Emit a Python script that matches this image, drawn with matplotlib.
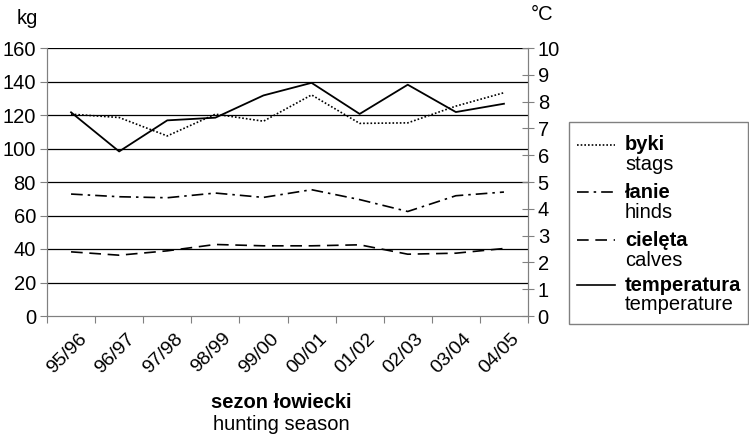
import matplotlib
matplotlib.use("Agg")
import matplotlib.pyplot as plt
from matplotlib.lines import Line2D
from matplotlib.patches import Rectangle
from matplotlib.transforms import ScaledTranslation

seasons = ["95/96", "96/97", "97/98", "98/99", "99/00", "00/01", "01/02", "02/03", "03/04", "04/05"]
stags = [120.5, 118.5, 107.5, 120.5, 116.3, 132.0, 115.0, 115.3, 125.3, 133.3]
hinds = [72.8, 71.2, 70.6, 73.4, 70.8, 75.4, 69.5, 62.4, 71.8, 74.0]
calves = [38.3, 36.3, 38.9, 42.7, 41.9, 41.9, 42.5, 36.9, 37.5, 40.3]
temperature = [7.6, 6.14, 7.3, 7.4, 8.23, 8.70, 7.54, 8.63, 7.61, 7.92]

plt.rcParams['font.family'] = ['Liberation Sans', 'DejaVu Sans']
GRAY = "#808080"
FS = 14.5

fig = plt.figure(figsize=(7.49, 4.36), dpi=100)
ax = fig.add_axes([47/749, 1-316/436, 481/749, 268/436])
ax2 = ax.twinx()

x = list(range(len(seasons)))
ax.set_xlim(-0.5, len(seasons) - 0.5)
ax.set_ylim(0, 160)
ax2.set_ylim(0, 10)

for v in range(20, 161, 20):
    ax.axhline(v, color="black", lw=0.9, zorder=1)

ax.plot(x, stags, color="black", lw=1.2, ls=(0, (1, 1.2)), zorder=3)
ax.plot(x, hinds, color="black", lw=1.2, ls=(0, (7, 3, 1.5, 3)), zorder=3)
ax.plot(x, calves, color="black", lw=1.2, ls=(0, (7, 4)), zorder=3)
ax2.plot(x, temperature, color="black", lw=1.3, zorder=3)

for a in (ax, ax2):
    for s in a.spines.values():
        s.set_color(GRAY)
    a.spines['top'].set_visible(False)

ax.set_yticks(range(0, 161, 20))
ax.tick_params(axis='y', labelsize=FS, colors=GRAY, labelcolor="black", length=5, direction='out', pad=3)
ax2.set_yticks(range(0, 11))
ax2.tick_params(axis='y', labelsize=FS, colors=GRAY, labelcolor="black", length=8, direction='inout', pad=3)

ax.set_xticks([i - 0.5 for i in range(len(seasons) + 1)])
ax.set_xticklabels([])
ax.set_xticks(x, minor=True)
ax.set_xticklabels(seasons, minor=True, rotation=45, ha='right', va='center',
                   rotation_mode='anchor', fontsize=14)
ax.tick_params(axis='x', which='major', colors=GRAY, length=5)
ax.tick_params(axis='x', which='minor', length=0, pad=0)
off = ScaledTranslation(13/100, -20/100, fig.dpi_scale_trans)
for lab in ax.xaxis.get_minorticklabels():
    lab.set_transform(lab.get_transform() + off)

fig.text(17/749, 1-18/436, "kg", fontsize=FS, va='center', ha='left')
fig.text(531/749, 1-14/436, "°C", fontsize=FS, va='center', ha='left')
fig.text(281/749, 1-402/436, "sezon łowiecki", fontsize=FS, fontweight='bold', ha='center', va='center')
fig.text(281/749, 1-424/436, "hunting season", fontsize=FS, ha='center', va='center')

# legend
fig.patches.append(Rectangle((569/749, 1-324/436), (748-569)/749, (324-122)/436,
                             transform=fig.transFigure, fill=False, edgecolor=GRAY, lw=1))
entries = [("byki", "stags", (0, (1, 1.2)), 145),
           ("łanie", "hinds", (0, (7, 3, 1.5, 3)), 192),
           ("cielęta", "calves", (0, (7, 4)), 240),
           ("temperatura", "temperature", '-', 285)]
for bold, reg, ls, yc in entries:
    yy = 1 - yc/436
    fig.lines.append(Line2D([577/749, 615/749], [yy, yy], transform=fig.transFigure,
                            color="black", lw=1.2, ls=ls))
    fig.text(625/749, yy, bold, fontsize=FS, fontweight='bold', va='center', ha='left')
    fig.text(625/749, 1-(yc+20)/436, reg, fontsize=FS, va='center', ha='left')

fig.savefig("out.png", dpi=100)
